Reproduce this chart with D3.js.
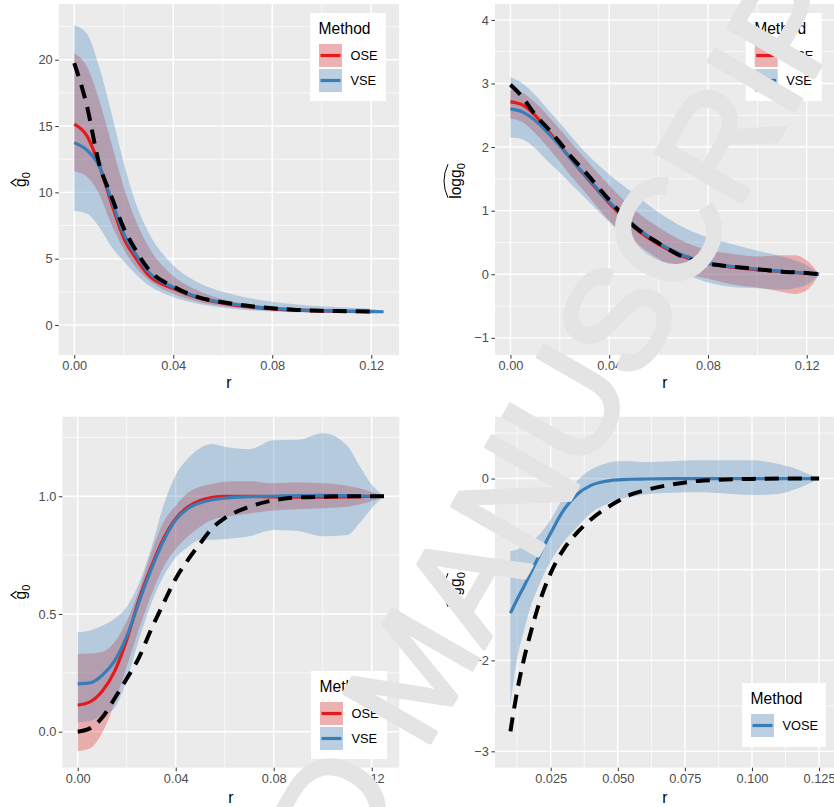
<!DOCTYPE html>
<meta charset="utf-8">
<head>
  <style>
    body { margin:0; background:#fff; }
    svg { display:block; }
  </style>
  <script src="https://d3js.org/d3.v7.min.js"></script>
</head>
<body>
<svg width="834" height="807"></svg>
<script>
// ---- data ----
// top left: g0 hat
var r1 = [0,0.005,0.01,0.015,0.02,0.025,0.03,0.04,0.05,0.06,0.07,0.08,0.09,0.1,0.11,0.12,0.125]
var true1  = [19.75,16.6,12.2,9.7,7.3,5.6,4.2,2.9,2.1,1.72,1.45,1.26,1.14,1.07,1.04,1.01,null]
var ose1   = [15.15,14.3,12.1,9.2,6.55,5.0,3.75,2.75,2.05,1.65,1.38,1.22,1.12,1.06,1.03,1.0,null]
var ose1Lo = [11.6,11.2,9.9,7.6,5.7,4.3,3.4,2.35,1.75,1.42,1.22,1.08,1.0,0.95,0.92,0.9,null]
var ose1Hi = [20.5,19.5,17.0,13.7,10.4,7.8,5.9,3.7,2.6,1.95,1.6,1.4,1.28,1.2,1.16,1.1,null]
var vse1   = [13.75,13.2,12.0,9.45,6.9,5.3,4.0,2.85,2.1,1.7,1.42,1.25,1.14,1.08,1.04,1.01,1.0]
var vse1Lo = [8.6,8.4,7.4,5.9,4.8,3.8,3.0,2.1,1.6,1.3,1.12,1.02,0.97,0.95,0.94,0.95,1.0]
var vse1Hi = [22.6,22.0,19.5,16.0,12.2,9.1,7.0,4.5,3.2,2.5,2.05,1.75,1.55,1.42,1.32,1.22,1.0]

// top right: log g0 hat
var r2 = [0,0.005,0.01,0.015,0.02,0.025,0.03,0.04,0.05,0.06,0.07,0.08,0.09,0.1,0.11,0.115,0.12,0.125]
var true2  = [2.98,2.78,2.51,2.3,2.07,1.83,1.62,1.17,0.76,0.49,0.27,0.17,0.12,0.08,0.04,0.03,0.02,0]
var ose2   = [2.71,2.66,2.5,2.27,2.03,1.79,1.56,1.12,0.74,0.47,0.28,0.17,0.11,0.07,0.04,0.027,0.015,0]
var ose2Lo = [2.45,2.39,2.22,2.0,1.77,1.52,1.3,0.84,0.52,0.24,0.03,-0.07,-0.16,-0.21,-0.28,-0.31,-0.25,0]
var ose2Hi = [2.9,2.85,2.7,2.5,2.28,2.05,1.83,1.4,1.02,0.74,0.52,0.38,0.32,0.28,0.3,0.3,0.22,0]
var vse2   = [2.6,2.55,2.42,2.23,2.02,1.79,1.57,1.14,0.77,0.49,0.3,0.18,0.12,0.08,0.045,0.032,0.02,0]
var vse2Lo = [2.15,2.12,1.98,1.78,1.6,1.4,1.21,0.82,0.45,0.17,0.01,-0.13,-0.2,-0.22,-0.24,-0.22,-0.17,0]
var vse2Hi = [3.1,3.0,2.82,2.6,2.38,2.15,1.93,1.57,1.27,0.97,0.74,0.58,0.47,0.37,0.28,0.22,0.14,0]

// bottom left: g0 hat
var r3 = [0,0.005,0.01,0.015,0.02,0.025,0.03,0.035,0.04,0.045,0.05,0.055,0.06,0.07,0.08,0.09,0.1,0.11,0.115,0.12,0.125]
var true3  = [0,0.014,0.06,0.14,0.225,0.315,0.435,0.545,0.65,0.73,0.8,0.865,0.907,0.955,0.983,0.995,0.998,1.0,1.0,1.0,1.0]
var ose3   = [0.113,0.127,0.172,0.255,0.39,0.56,0.7,0.82,0.905,0.955,0.982,0.995,1.0,1.0,0.997,0.996,0.996,0.997,0.998,1.0,1.0]
var ose3Lo = [-0.082,-0.071,-0.005,0.12,0.276,0.435,0.58,0.7,0.775,0.83,0.871,0.9,0.912,0.927,0.94,0.945,0.949,0.955,0.965,0.98,1.0]
var ose3Hi = [0.33,0.332,0.34,0.38,0.47,0.6,0.76,0.89,0.96,1.015,1.04,1.053,1.062,1.064,1.055,1.058,1.055,1.045,1.034,1.018,1.0]
var vse3   = [0.203,0.207,0.24,0.3,0.405,0.55,0.69,0.81,0.9,0.948,0.972,0.985,0.992,0.998,1.0,1.003,1.004,1.003,1.002,1.0,1.0]
var vse3Lo = [0.04,0.045,0.07,0.1,0.22,0.39,0.545,0.66,0.74,0.785,0.814,0.815,0.818,0.83,0.857,0.852,0.83,0.835,0.885,0.95,1.0]
var vse3Hi = [0.422,0.43,0.45,0.48,0.53,0.63,0.78,0.96,1.09,1.16,1.205,1.222,1.21,1.2,1.238,1.24,1.268,1.215,1.13,1.05,1.0]

// bottom right: log g0 hat
var r4 = [0.01,0.0125,0.015,0.0175,0.02,0.025,0.03,0.035,0.04,0.045,0.05,0.055,0.06,0.07,0.08,0.09,0.1,0.11,0.115,0.12,0.125]
var true4   = [-2.78,-2.34,-1.99,-1.7,-1.44,-1.04,-0.77,-0.59,-0.45,-0.34,-0.25,-0.175,-0.13,-0.066,-0.026,-0.012,-0.004,0,0,0,0]
var vose4   = [-1.48,-1.33,-1.19,-1.04,-0.89,-0.6,-0.34,-0.17,-0.075,-0.032,-0.014,-0.008,-0.005,-0.002,0,0,0,0,0,0,0]
var vose4Lo = [-2.49,-1.98,-1.68,-1.41,-1.22,-0.91,-0.69,-0.53,-0.38,-0.29,-0.23,-0.2,-0.175,-0.155,-0.152,-0.165,-0.182,-0.17,-0.13,-0.075,0]
var vose4Hi = [-0.8,-0.78,-0.74,-0.69,-0.64,-0.45,-0.2,-0.02,0.1,0.16,0.19,0.19,0.18,0.19,0.2,0.2,0.2,0.16,0.12,0.06,0]

var RED = "#E41A1C", BLUE = "#377EB8"
var font = "'Liberation Sans', Arial, Helvetica, sans-serif"

var svg = d3.select("svg").style("font-family", font)

var panels = [
  { box:[58.8,4,399.1,355], xd:[-0.00625,0.13125], yd:[-2.26,24.2],
    xt:[0,0.04,0.08,0.12], yt:[0,5,10,15,20], xf:d3.format(".2f"), yf:d3.format("d"),
    r:r1, ribbons:[[ose1Lo,ose1Hi,RED],[vse1Lo,vse1Hi,BLUE]], lines:[[ose1,RED],[vse1,BLUE]], truth:true1,
    legend:{x:310,y:13,w:76,h:88,items:[["OSE",RED],["VSE",BLUE]]},
    title:{x:26,y:179.5,base:"g",wide:false}, rY:388 },
  { box:[495,4,834.5,355], xd:[-0.00625,0.13125], yd:[-1.27,4.25],
    xt:[0,0.04,0.08,0.12], yt:[-1,0,1,2,3,4], xf:d3.format(".2f"), yf:d3.format("d"),
    r:r2, ribbons:[[ose2Lo,ose2Hi,RED],[vse2Lo,vse2Hi,BLUE]], lines:[[ose2,RED],[vse2,BLUE]], truth:true2,
    legend:{x:745.7,y:13,w:76,h:88,items:[["OSE",RED],["VSE",BLUE]]},
    title:{x:461,y:181,base:"logg",wide:true}, rY:388 },
  { box:[62.4,416.7,399.3,767.7], xd:[-0.00625,0.13125], yd:[-0.153,1.338],
    xt:[0,0.04,0.08,0.12], yt:[0,0.5,1], xf:d3.format(".2f"), yf:d3.format(".1f"),
    r:r3, ribbons:[[ose3Lo,ose3Hi,RED],[vse3Lo,vse3Hi,BLUE]], lines:[[ose3,RED],[vse3,BLUE]], truth:true3,
    legend:{x:311,y:671,w:76,h:88,items:[["OSE",RED],["VSE",BLUE]]},
    title:{x:26,y:592,base:"g",wide:false}, rY:803 },
  { box:[495,416.7,834.5,767.7], xd:[0.00425,0.13075], yd:[-3.18,0.68],
    xt:[0.025,0.05,0.075,0.1,0.125], yt:[-3,-2,-1,0], xf:d3.format(".3f"), yf:d3.format("d"),
    r:r4, ribbons:[[vose4Lo,vose4Hi,BLUE]], lines:[[vose4,BLUE]], truth:true4,
    legend:{x:742,y:683,w:84,h:64,items:[["VOSE",BLUE]]},
    title:{x:461,y:590,base:"logg",wide:true}, rY:803 }
]

function minors(ticks, dom) {
  var step = ticks[1] - ticks[0]
  var out = ticks.map(function (t) { return t - step / 2 })
  out.push(ticks[ticks.length - 1] + step / 2)
  return out.filter(function (v) { return v > dom[0] && v < dom[1] })
}

panels.forEach(function (p) {
  var x0 = p.box[0], y0 = p.box[1], x1 = p.box[2], y1 = p.box[3]
  var x = d3.scaleLinear().domain(p.xd).range([x0, x1])
  var y = d3.scaleLinear().domain(p.yd).range([y1, y0])
  var g = svg.append("g")

  g.append("rect").attr("x", x0).attr("y", y0).attr("width", x1 - x0).attr("height", y1 - y0).attr("fill", "#ebebeb")

  // grid
  var grid = g.append("g").attr("stroke", "#fff").attr("fill", "none")
  minors(p.xt, p.xd).forEach(function (v) {
    grid.append("line").attr("x1", x(v)).attr("x2", x(v)).attr("y1", y0).attr("y2", y1).attr("stroke-width", 0.7)
  })
  minors(p.yt, p.yd).forEach(function (v) {
    grid.append("line").attr("y1", y(v)).attr("y2", y(v)).attr("x1", x0).attr("x2", x1).attr("stroke-width", 0.7)
  })
  p.xt.forEach(function (v) {
    grid.append("line").attr("x1", x(v)).attr("x2", x(v)).attr("y1", y0).attr("y2", y1).attr("stroke-width", 1.4)
  })
  p.yt.forEach(function (v) {
    grid.append("line").attr("y1", y(v)).attr("y2", y(v)).attr("x1", x0).attr("x2", x1).attr("stroke-width", 1.4)
  })

  var plot = g.append("g")

  // ribbons
  p.ribbons.forEach(function (rb) {
    var pts = p.r.map(function (r, i) { return { r: r, lo: rb[0][i], hi: rb[1][i] } })
    var area = d3.area()
      .defined(function (d) { return d.lo != null && d.hi != null })
      .x(function (d) { return x(d.r) })
      .y0(function (d) { return y(d.lo) })
      .y1(function (d) { return y(d.hi) })
      .curve(d3.curveMonotoneX)
    plot.append("path").datum(pts).attr("d", area).attr("fill", rb[2]).attr("fill-opacity", 0.3)
  })

  // estimate lines
  var line = d3.line()
    .defined(function (d) { return d.v != null })
    .x(function (d) { return x(d.r) })
    .y(function (d) { return y(d.v) })
    .curve(d3.curveMonotoneX)
  p.lines.forEach(function (ln) {
    var pts = p.r.map(function (r, i) { return { r: r, v: ln[0][i] } })
    plot.append("path").datum(pts).attr("d", line).attr("fill", "none")
      .attr("stroke", ln[1]).attr("stroke-width", 3.2)
  })

  // true curve
  var tp = p.r.map(function (r, i) { return { r: r, v: p.truth[i] } })
  plot.append("path").datum(tp).attr("d", line).attr("fill", "none")
    .attr("stroke", "#000").attr("stroke-width", 4).attr("stroke-dasharray", "14,9")

  // axes
  var ax = g.append("g").attr("transform", "translate(0," + y1 + ")")
    .call(d3.axisBottom(x).tickValues(p.xt).tickFormat(p.xf).tickSize(3.6).tickPadding(2.5))
  var ay = g.append("g").attr("transform", "translate(" + x0 + ",0)")
    .call(d3.axisLeft(y).tickValues(p.yt).tickFormat(p.yf).tickSize(3.6).tickPadding(2.5))
  ;[ax, ay].forEach(function (a) {
    a.attr("font-family", font).attr("font-size", 12.8)
    a.select(".domain").remove()
    a.selectAll("line").attr("stroke", "#333").attr("stroke-width", 1)
    a.selectAll("text").attr("fill", "#4d4d4d")
  })

  // x title
  g.append("text").attr("x", (x0 + x1) / 2).attr("y", p.rY).attr("text-anchor", "middle")
    .style("font-size", "15.6px").attr("fill", "#000").text("r")

  // y title
  var tg = g.append("g").attr("transform", "translate(" + p.title.x + "," + p.title.y + ") rotate(-90)")
  var tt = tg.append("text").attr("text-anchor", "middle").style("font-size", "15.6px").attr("fill", "#000")
  tt.append("tspan").text(p.title.base)
  tt.append("tspan").attr("dy", 3.5).style("font-size", "11px").text("0")
  var n = tt.node()
  if (p.title.wide) {
    var bb = n.getBBox()
    var a = bb.x + 1, b = bb.x + bb.width - 1
    tg.append("path").attr("d", "M" + a + ",-13 Q" + ((a + b) / 2) + ",-21 " + b + ",-13")
      .attr("fill", "none").attr("stroke", "#000").attr("stroke-width", 1)
  } else {
    var e = n.getExtentOfChar(0)
    tg.append("path").attr("d", "M" + (e.x + 0.5) + ",-9.5 L" + (e.x + e.width / 2) + ",-15 L" + (e.x + e.width - 0.5) + ",-9.5")
      .attr("fill", "none").attr("stroke", "#000").attr("stroke-width", 1.1)
  }

  // legend
  var L = p.legend
  var lg = g.append("g").attr("transform", "translate(" + L.x + "," + L.y + ")")
  lg.append("rect").attr("width", L.w).attr("height", L.h).attr("fill", "#fff")
  lg.append("text").attr("x", 8.5).attr("y", 20.5).style("font-size", "15.6px").attr("fill", "#000").text("Method")
  L.items.forEach(function (it, i) {
    var ky = 31 + i * 25
    lg.append("rect").attr("x", 9).attr("y", ky).attr("width", 23).attr("height", 23).attr("fill", "#f2f2f2")
    lg.append("rect").attr("x", 9).attr("y", ky).attr("width", 23).attr("height", 23).attr("fill", it[1]).attr("fill-opacity", 0.3)
    lg.append("line").attr("x1", 10.5).attr("x2", 30.5).attr("y1", ky + 11.5).attr("y2", ky + 11.5)
      .attr("stroke", it[1]).attr("stroke-width", 3.2)
    lg.append("text").attr("x", 40.5).attr("y", ky + 16).style("font-size", "12.8px").attr("fill", "#000").text(it[0])
  })
})

// watermark over everything
var wmSize = 144, wmAngle = -60
var wm = svg.append("text").attr("x", 0).attr("y", 0).style("font-size", wmSize + "px")
  .attr("fill", "#e4e4e4").attr("stroke", "#e4e4e4").attr("stroke-width", 4).attr("stroke-linejoin", "round")
  .text("ACCEPTED MANUSCRIPT")
var wn = wm.node()
var sIdx = 13
var sx = (wn.getStartPositionOfChar(sIdx).x + wn.getEndPositionOfChar(sIdx).x) / 2
var sy = -0.36 * wmSize
var ang = wmAngle * Math.PI / 180
var rx = sx * Math.cos(ang) - sy * Math.sin(ang)
var ry = sx * Math.sin(ang) + sy * Math.cos(ang)
wm.attr("transform", "translate(" + (615 - rx) + "," + (318 - ry) + ") rotate(" + wmAngle + ")")
</script>
</body>
